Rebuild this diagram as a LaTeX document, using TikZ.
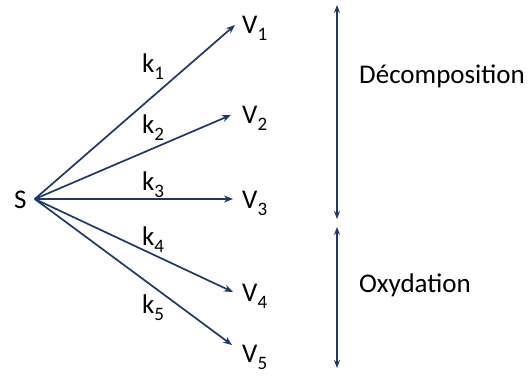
\documentclass[tikz,border=0pt]{standalone}
\usepackage{fontspec}
\setmainfont{Carlito}
\usetikzlibrary{arrows.meta}
\definecolor{navy}{HTML}{1F3864}
\tikzset{
  lbl/.style={inner sep=0pt, anchor=base west, font=\fontsize{27}{32}\selectfont},
  rlbl/.style={inner sep=0pt, anchor=base west, font=\fontsize{27}{32}\selectfont},
  conn/.style={draw=navy, line width=1.7pt, -{Stealth[length=9pt,width=7pt]}},
  dbl/.style={draw=navy, line width=1.7pt, {Stealth[length=8pt,width=6pt]}-{Stealth[length=8pt,width=6pt]}}
}
\newcommand{\subtx}[1]{\raisebox{-7pt}{\fontsize{19}{22}\selectfont #1}}
\begin{document}
\begin{tikzpicture}[x=1pt,y=-1pt]
\useasboundingbox (0,0) rectangle (528,376);
\node[lbl] (S) at (14,208) {S};
\node[lbl] (V1) at (242,33) {V\subtx{1}};
\node[lbl] (V2) at (242,123) {V\subtx{2}};
\node[lbl] (V3) at (242,208) {V\subtx{3}};
\node[lbl] (V4) at (242,301) {V\subtx{4}};
\node[lbl] (V5) at (242,362) {V\subtx{5}};
\node[lbl] (k1) at (142,72) {k\subtx{1}};
\node[lbl] (k2) at (142,133) {k\subtx{2}};
\node[lbl] (k3) at (142,190) {k\subtx{3}};
\node[lbl] (k4) at (142,245) {k\subtx{4}};
\node[lbl] (k5) at (142,313) {k\subtx{5}};
\node[rlbl] (dec) at (359,83) {Décomposition};
\node[rlbl] (oxy) at (359,292) {Oxydation};
\coordinate (O) at ([shift={(8pt,9pt)}]S.base east);
\draw[conn] (O) -- ([shift={(-7pt,8pt)}]V1.base west);
\draw[conn] (O) -- ([shift={(-11pt,8pt)}]V2.base west);
\draw[conn] (O) -- ([shift={(-9pt,9pt)}]V3.base west);
\draw[conn] (O) -- ([shift={(-9pt,9pt)}]V4.base west);
\draw[conn] (O) -- ([shift={(-10pt,17pt)}]V5.base west);
\coordinate (d1) at (337,5);
\coordinate (d2) at (337,219);
\coordinate (o1) at (337,227);
\coordinate (o2) at (337,368);
\draw[dbl] (d1) -- (d2);
\draw[dbl] (o1) -- (o2);
\end{tikzpicture}
\end{document}
